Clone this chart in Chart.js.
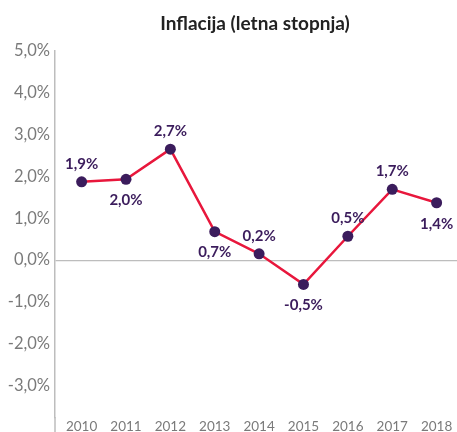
<!DOCTYPE html>
<html>
<head>
<meta charset="utf-8">
<script src="https://cdn.jsdelivr.net/npm/chart.js@4"></script>
<style>
  html, body { margin: 0; padding: 0; background: #fff; overflow: hidden; }
  #inflacija { display: block; }
</style>
</head>
<body>
<canvas id="inflacija" width="510" height="432"></canvas>
<script>
'use strict';

// #region ***  Data                                     ***********
const years = [2010, 2011, 2012, 2013, 2014, 2015, 2016, 2017, 2018];
const inflation = [1.87, 1.93, 2.65, 0.68, 0.15, -0.58, 0.57, 1.69, 1.37];
const valueLabels = ['1,9%', '2,0%', '2,7%', '0,7%', '0,2%', '-0,5%', '0,5%', '1,7%', '1,4%'];
const yTicks = [-3, -2, -1, 0, 1, 2, 3, 4, 5];
// #endregion

const labelSide = ['up', 'down', 'up', 'down', 'up', 'down', 'up', 'up', 'down'];
const purple = '#3b1c5c';
const red = '#e8173c';
const grey = '#7a7a7a';
const axisGrey = '#bdbdbd';

// value labels above / below the points
const pointLabels = {
  id: 'pointLabels',
  afterDatasetsDraw(chart) {
    const ctx = chart.ctx;
    const meta = chart.getDatasetMeta(0);
    ctx.save();
    ctx.font = 'bold 15px Lato';
    ctx.fillStyle = purple;
    ctx.textAlign = 'center';
    ctx.textBaseline = 'middle';
    meta.data.forEach(function (pt, i) {
      const dy = labelSide[i] === 'up' ? -18 : 21;
      ctx.fillText(valueLabels[i], pt.x, pt.y + dy);
    });
    ctx.restore();
  }
};

// y axis line keeps running down to the bottom edge
const axisExtend = {
  id: 'axisExtend',
  afterDraw(chart) {
    const ctx = chart.ctx;
    const area = chart.chartArea;
    ctx.save();
    ctx.strokeStyle = axisGrey;
    ctx.lineWidth = 1.5;
    ctx.beginPath();
    ctx.moveTo(area.left, area.bottom);
    ctx.lineTo(area.left, chart.height);
    ctx.stroke();
    ctx.restore();
  }
};

const formatPct = function (v) {
  return v.toFixed(1).replace('.', ',') + '%';
};

const init = function () {
  const ctx = document.getElementById('inflacija').getContext('2d');
  new Chart(ctx, {
    type: 'line',
    data: {
      datasets: [{
        data: years.map(function (y, i) { return { x: y, y: inflation[i] }; }),
        borderColor: red,
        borderWidth: 2.5,
        pointRadius: 5.5,
        pointBackgroundColor: purple,
        pointBorderColor: purple,
        pointBorderWidth: 0,
        tension: 0
      }]
    },
    options: {
      responsive: false,
      animation: false,
      layout: { padding: { top: 12, left: 0, right: 0, bottom: 0 } },
      plugins: {
        legend: { display: false },
        tooltip: { enabled: false },
        title: {
          display: true,
          text: 'Inflacija (letna stopnja)',
          color: '#222',
          font: { family: 'Lato', size: 19, weight: 'bold', lineHeight: 1.2 },
          padding: { top: 0, bottom: 16 }
        }
      },
      scales: {
        x: {
          type: 'linear',
          min: 2009.4,
          max: 2019.53,
          afterBuildTicks: function (scale) {
            scale.ticks = years.map(function (y) { return { value: y }; });
          },
          afterFit: function (scale) { scale.height = 14; },
          grid: { display: false, drawTicks: false },
          border: { display: false },
          ticks: {
            padding: 1,
            color: grey,
            font: { family: 'Lato', size: 13.5 },
            callback: function (v) { return String(v); }
          }
        },
        y: {
          min: -3.75,
          max: 5,
          afterBuildTicks: function (scale) {
            scale.ticks = yTicks.map(function (v) { return { value: v }; });
          },
          afterFit: function (scale) { scale.width = 55; },
          grid: {
            drawTicks: false,
            color: function (c) { return c.tick && c.tick.value === 0 ? axisGrey : 'rgba(0,0,0,0)'; },
            lineWidth: 1.2
          },
          border: { display: true, color: axisGrey, width: 1.5 },
          ticks: {
            padding: 5,
            color: grey,
            font: { family: 'Lato', size: 16.5 },
            callback: formatPct
          }
        }
      }
    },
    plugins: [pointLabels, axisExtend]
  });
};

document.addEventListener('DOMContentLoaded', init);
</script>
</body>
</html>
